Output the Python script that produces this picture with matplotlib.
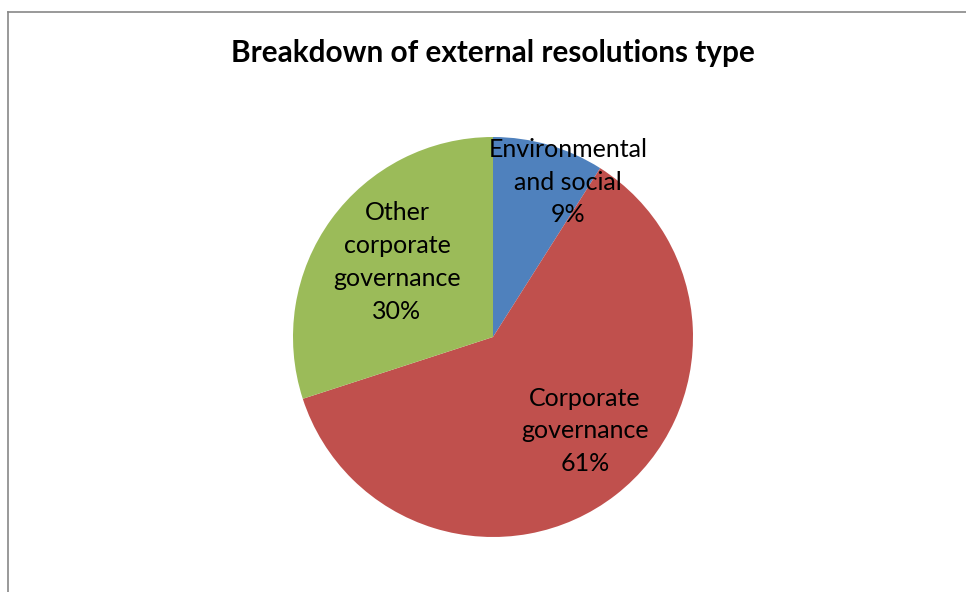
import matplotlib
matplotlib.use("Agg")
import matplotlib.pyplot as plt
from matplotlib.lines import Line2D

categories = ["Environmental\nand social", "Corporate\ngovernance", "Other\ncorporate\ngovernance"]
values = [9, 61, 30]
colors = ["#4F81BD", "#C0504D", "#9BBB59"]
label_pos = [(0.375, 0.775), (0.46, -0.47), (-0.48, 0.375)]

plt.rcParams['font.family'] = ['Lato', 'DejaVu Sans']

W, H = 966, 592
fig = plt.figure(figsize=(W / 100, H / 100), dpi=100)
fig.patch.set_facecolor("white")

cx, cy, r = 493, 337, 200
ax = fig.add_axes([(cx - r) / W, (H - cy - r) / H, 2 * r / W, 2 * r / H])
ax.pie(values, colors=colors, startangle=90, counterclock=False, radius=1,
       wedgeprops=dict(linewidth=0))
ax.set_xlim(-1, 1)
ax.set_ylim(-1, 1)
ax.set_aspect("auto")
ax.axis("off")

total = sum(values)
for cat, v, (lx, ly) in zip(categories, values, label_pos):
    ax.text(lx, ly, f"{cat}\n{round(100 * v / total)}%", ha="center", va="center",
            fontsize=18, color="black", linespacing=1.52)

fig.text(cx / W, 1 - 53 / H, "Breakdown of external resolutions type", ha="center", va="center",
         fontsize=21.4, fontweight="bold", color="black")

# chart border
fig.add_artist(Line2D([8 / W, 8 / W], [0, 1 - 12 / H], transform=fig.transFigure, color="#878787", lw=1.2))
fig.add_artist(Line2D([8 / W, 1], [1 - 12 / H, 1 - 12 / H], transform=fig.transFigure, color="#878787", lw=1.2))

fig.savefig("out.png", dpi=100)
